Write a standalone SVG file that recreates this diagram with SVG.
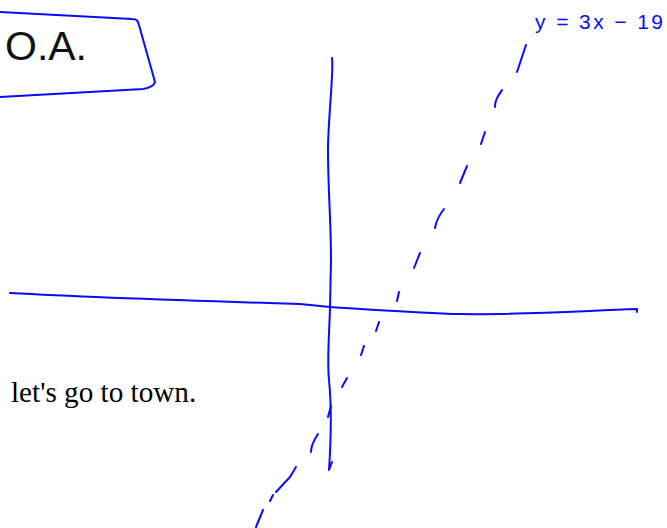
<svg xmlns="http://www.w3.org/2000/svg" width="667" height="528" viewBox="0 0 667 528">
<style>
.ink{fill:none;stroke:#0a0aff;stroke-width:2;stroke-linecap:round;stroke-linejoin:round}
.hand{font-family:"Liberation Sans",Arial,sans-serif;fill:#111}
.blue{font-family:"Liberation Sans",Arial,sans-serif;fill:#0a0aff}
.serif{font-family:"Liberation Serif","Times New Roman",serif;fill:#000}
</style>
<rect width="667" height="528" fill="#fff"/>
<g id="label-box">
<path class="ink" d="M0,12 L132,19 C137,19 138,21 139,25 L155,82 C154,86 149,88 143,89 L0,97"/>
<text class="hand" x="5" y="60" font-size="40" textLength="82" lengthAdjust="spacingAndGlyphs">O.A.</text>
</g>
<g id="equation">
<text class="blue" x="535" y="29" font-size="21" textLength="128" lengthAdjust="spacing">y = 3x − 19</text>
</g>
<g id="axes">
<path class="ink" d="M10,293 C100,298 200,301 300,304 L330,307 C380,310 420,313 460,314 C510,315 560,312 637,309 L637,312"/>
<path class="ink" d="M332,58 C334,70 328,120 328,150 C328,190 331,220 331,260 L330,308 C329,340 327,360 329,380 C332,410 331,440 329,470 L332,462"/>
</g>
<g id="dashed-line">
<path class="ink" d="M526,45 L517,72"/>
<path class="ink" d="M502,90 C498,96 495,100 495,107"/>
<path class="ink" d="M485,132 L481,144"/>
<path class="ink" d="M467,166 L460,183"/>
<path class="ink" d="M444,209 C440,214 436,222 435,228"/>
<path class="ink" d="M420,253 L414,268"/>
<path class="ink" d="M399,292 L397,301"/>
<path class="ink" d="M379,322 L376,331"/>
<path class="ink" d="M364,346 L361,355"/>
<path class="ink" d="M347,378 L342,387"/>
<path class="ink" d="M331,406 L328,417"/>
<path class="ink" d="M318,434 C314,440 311,446 311,452"/>
<path class="ink" d="M296,467 L290,477 L276,492"/>
<path class="ink" d="M273,495 L270,501"/>
<path class="ink" d="M263,510 L256,527"/>
</g>
<g id="caption">
<text class="serif" x="11" y="402" font-size="29.2">let's go to town.</text>
</g>
</svg>
